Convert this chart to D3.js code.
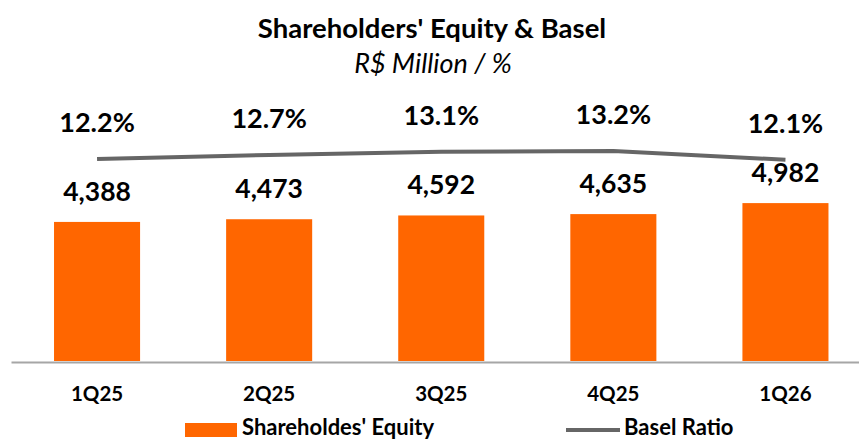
<!DOCTYPE html>
<html>
<head>
<meta charset="utf-8">
<script src="https://cdn.jsdelivr.net/npm/d3@7"></script>
<style>
  body { margin: 0; background: #fff; }
  text { font-family: Lato, "Open Sans", sans-serif; fill: #000; }
</style>
</head>
<body>
<div id="chart"></div>
<script>
// chart data
var quarters = ["1Q25", "2Q25", "3Q25", "4Q25", "1Q26"];
var equity = [4388, 4473, 4592, 4635, 4982];
var basel = [12.2, 12.7, 13.1, 13.2, 12.1];
var legendLabels = ["Shareholdes' Equity", "Basel Ratio"];

var totalWidth = 859,
    totalHeight = 440,
    baseY = 361;

var svg = d3.select("#chart")
    .append("svg")
    .attr("width", totalWidth)
    .attr("height", totalHeight);

var x = d3.scaleBand()
    .domain(quarters)
    .range([11, 871.5])
    .paddingInner(0.5)
    .paddingOuter(0.25);

var y = d3.scaleLinear()
    .domain([0, 9150])
    .range([baseY, 71]);

var y2 = d3.scaleLinear()
    .domain([10, 15])
    .range([176.6, 136.6]);

// title
svg.append("text")
    .attr("x", 432)
    .attr("y", 38)
    .attr("text-anchor", "middle")
    .style("font-size", "27.5px")
    .style("font-weight", "bold")
    .text("Shareholders' Equity & Basel");

svg.append("text")
    .attr("x", 433)
    .attr("y", 73)
    .attr("text-anchor", "middle")
    .style("font-size", "27px")
    .style("font-style", "italic")
    .text("R$ Million / %");

// bars
svg.append("g")
    .selectAll("rect")
    .data(equity)
    .enter()
    .append("rect")
    .attr("x", (d, i) => x(quarters[i]))
    .attr("y", d => y(d))
    .attr("width", x.bandwidth())
    .attr("height", d => baseY - y(d))
    .style("fill", "#FF6600");

svg.append("g")
    .selectAll("text")
    .data(equity)
    .enter()
    .append("text")
    .attr("x", (d, i) => x(quarters[i]) + x.bandwidth() / 2)
    .attr("y", d => y(d) - 21)
    .attr("text-anchor", "middle")
    .style("font-size", "26.5px")
    .style("font-weight", "bold")
    .text(d => d3.format(",")(d));

// axis
var axis = svg.append("g")
    .attr("transform", "translate(0," + (baseY + 1) + ")")
    .call(d3.axisBottom(x).tickSize(0).tickPadding(24));
axis.select(".domain")
    .attr("stroke", "#a6a6a6")
    .attr("stroke-width", 2);
axis.selectAll("text")
    .style("font-size", "20.5px")
    .style("font-weight", "bold")
    .style("font-family", "Lato, sans-serif")
    .attr("fill", "#000");

// basel line
var line = d3.line()
    .x((d, i) => x(quarters[i]) + x.bandwidth() / 2)
    .y(d => y2(d));

svg.append("path")
    .datum(basel)
    .attr("d", line)
    .attr("fill", "none")
    .attr("stroke", "#666")
    .attr("stroke-width", 4);

svg.append("g")
    .selectAll("text")
    .data(basel)
    .enter()
    .append("text")
    .attr("x", (d, i) => x(quarters[i]) + x.bandwidth() / 2)
    .attr("y", d => y2(d) - 27)
    .attr("text-anchor", "middle")
    .style("font-size", "27px")
    .style("font-weight", "bold")
    .text(d => d.toFixed(1) + "%");

// legend
var legend = svg.append("g");
legend.append("rect")
    .attr("x", 185)
    .attr("y", 423)
    .attr("width", 52)
    .attr("height", 14)
    .style("fill", "#FF6600");
legend.append("text")
    .attr("x", 242)
    .attr("y", 435)
    .style("font-size", "22px")
    .style("font-weight", "bold")
    .text(legendLabels[0]);
legend.append("line")
    .attr("x1", 566)
    .attr("x2", 620)
    .attr("y1", 430)
    .attr("y2", 430)
    .attr("stroke", "#666")
    .attr("stroke-width", 4);
legend.append("text")
    .attr("x", 624)
    .attr("y", 435)
    .style("font-size", "22px")
    .style("font-weight", "bold")
    .text(legendLabels[1]);
</script>
</body>
</html>
